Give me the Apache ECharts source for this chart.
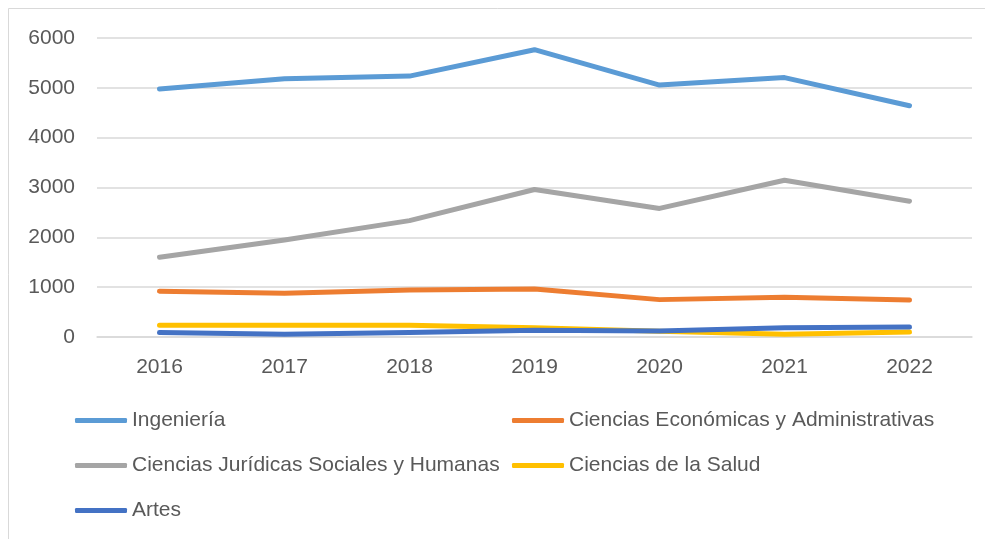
<!DOCTYPE html>
<html>
<head>
<meta charset="utf-8">
<script src="https://cdn.jsdelivr.net/npm/echarts@6/dist/echarts.min.js"></script>
<style>
html,body{margin:0;padding:0;background:#fff;}
#chart{width:985px;height:539px;}
</style>
</head>
<body>
<div id="chart"></div>
<script>
const years = ['2016','2017','2018','2019','2020','2021','2022'];
const seriesNames = ['Ingeniería','Ciencias Económicas y Administrativas','Ciencias Jurídicas Sociales y Humanas','Ciencias de la Salud','Artes'];
const ingenieria = [4975, 5180, 5235, 5765, 5055, 5205, 4640];
const economicas = [920, 880, 945, 965, 750, 800, 740];
const juridicas = [1600, 1945, 2335, 2960, 2580, 3145, 2725];
const salud = [235, 235, 235, 185, 115, 55, 100];
const artes = [88, 55, 92, 135, 120, 185, 200];
const yTicks = [0, 1000, 2000, 3000, 4000, 5000, 6000];

const colors = ['#5B9BD5','#ED7D31','#A5A5A5','#FFC000','#4472C4'];
const values = [ingenieria, economicas, juridicas, salud, artes];
const FONT = 'Liberation Sans, Arial, sans-serif';

const legendPos = [
  {left: 75, top: 420},
  {left: 512, top: 420},
  {left: 75, top: 465},
  {left: 512, top: 465},
  {left: 75, top: 510}
];

const chart = echarts.init(document.getElementById('chart'), null, {renderer: 'canvas'});
const option = {
  animation: false,
  backgroundColor: '#fff',
  graphic: [{
    type: 'rect',
    shape: {x: 8.5, y: 8.5, width: 1000, height: 600},
    style: {fill: 'none', stroke: '#D9D9D9', lineWidth: 1},
    silent: true,
    z: -10
  }],
  grid: {left: 97, right: 13, top: 38, bottom: 202, containLabel: false},
  legend: seriesNames.map((n, i) => ({
    data: [n],
    left: legendPos[i].left - 5,
    top: legendPos[i].top - 15,
    icon: 'roundRect',
    itemWidth: 52,
    itemHeight: 5,
    textStyle: {color: '#595959', fontSize: 21, fontFamily: FONT},
    selectedMode: false
  })),
  xAxis: {
    type: 'category',
    data: years,
    boundaryGap: true,
    axisLine: {show: true, lineStyle: {color: '#D9D9D9', width: 1.5}},
    axisTick: {show: false},
    axisLabel: {color: '#595959', fontSize: 21, fontFamily: FONT, margin: 20}
  },
  yAxis: {
    type: 'value',
    min: yTicks[0],
    max: yTicks[yTicks.length - 1],
    interval: 1000,
    axisLine: {show: false},
    axisTick: {show: false},
    splitLine: {lineStyle: {color: '#D9D9D9', width: 1.5}},
    axisLabel: {color: '#595959', fontSize: 21, fontFamily: FONT, margin: 22, formatter: v => String(v)}
  },
  series: seriesNames.map((n, i) => ({
    name: n,
    type: 'line',
    data: values[i],
    showSymbol: false,
    symbol: 'none',
    color: colors[i],
    itemStyle: {color: colors[i]},
    lineStyle: {color: colors[i], width: 5, cap: 'round', join: 'round'},
    z: 2 + i
  }))
};
chart.setOption(option);
</script>
</body>
</html>
